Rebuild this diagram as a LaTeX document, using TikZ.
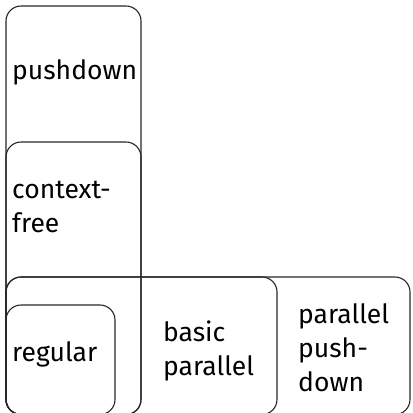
\documentclass[tikz,border=0pt]{standalone}
\usepackage{fontspec}
\setmainfont{Fira Sans}
\begin{document}
\begin{tikzpicture}[x=1pt,y=-1pt,
  region/.style={draw=black!85, line width=1.1pt, rounded corners=15pt,
    inner sep=0pt, outer sep=0pt, anchor=north west},
  label/.style={anchor=base west, inner sep=0pt, align=left,
    font=\fontsize{26.5}{34}\selectfont}]
  \useasboundingbox (0,0) rectangle (413,413);
  \clip (0,0) rectangle (413,413);
  % nested language classes, all sharing the lower-left corner
  \node[region, minimum width=135pt, minimum height=408.5pt] (pushdown) at (6,6) {};
  \node[region, minimum width=135pt, minimum height=272.5pt] (cf) at (6,142) {};
  \node[region, minimum width=404pt, minimum height=137.5pt] (ppd) at (6,277) {};
  \node[region, minimum width=271pt, minimum height=137.5pt] (bpp) at (6,277) {};
  \node[region, minimum width=109pt, minimum height=109.5pt] (reg) at (6,305) {};
  % class names (a label's base is the baseline of its last line)
  \node[label] (tpd) at (12,79) {pushdown};
  \node[label] (tcf) at (12,232) {context-\\free};
  \node[label] (treg) at (12,361) {regular};
  \node[label] (tbpp) at (163,375) {basic\\parallel};
  \node[label] (tppd) at (298,391) {parallel\\push-\\down};
\end{tikzpicture}
\end{document}
